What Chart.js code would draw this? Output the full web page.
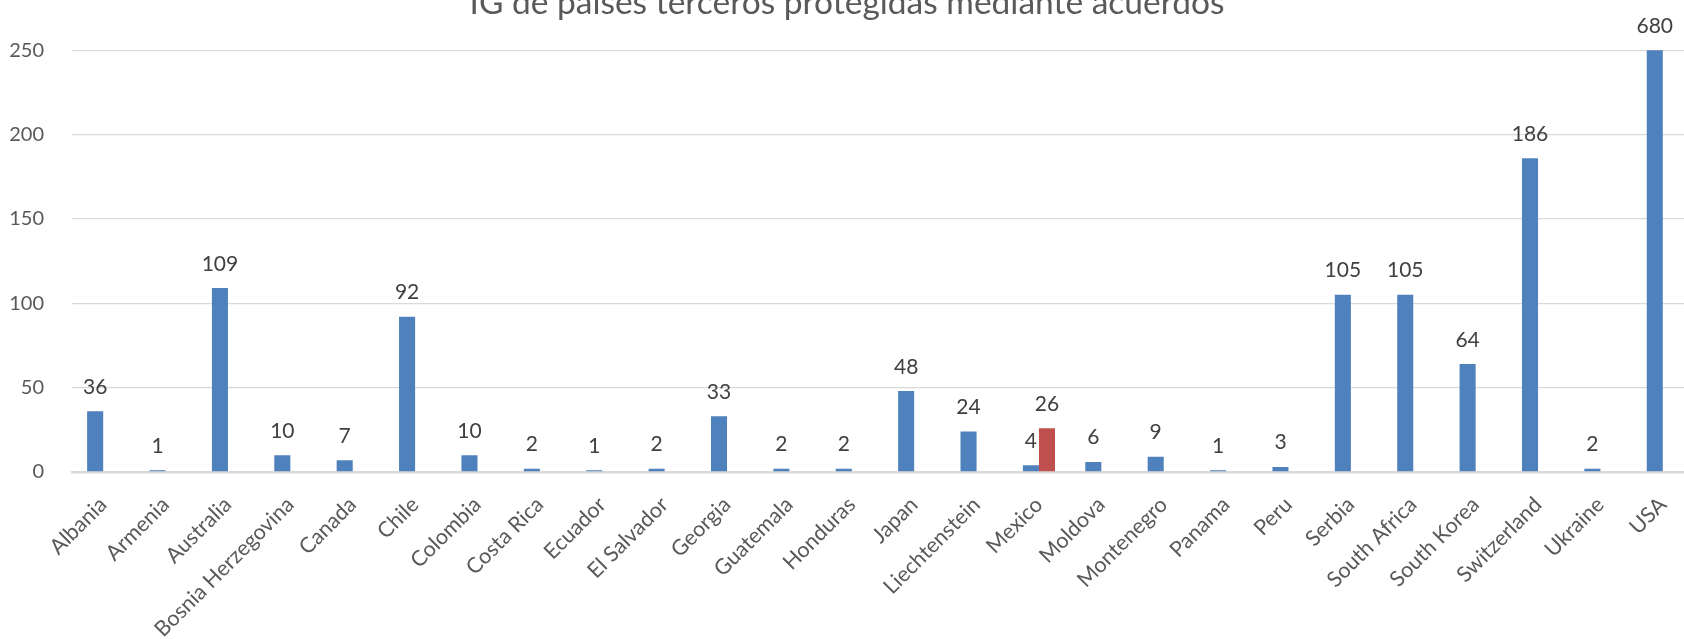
<!DOCTYPE html>
<html lang="es">
<head>
  <meta charset="UTF-8">
  <title>IG de países terceros protegidas mediante acuerdos</title>
  <script src="https://cdn.jsdelivr.net/npm/chart.js"></script>
  <style>
    html, body { margin: 0; padding: 0; overflow: hidden; background: #fff; }
    #wrap { position: absolute; left: 0; top: -17px; width: 1694px; height: 656px; }
  </style>
</head>
<body>
  <div id="wrap"><canvas id="igChart"></canvas></div>

  <script>
    // data
    var countries = ['Albania', 'Armenia', 'Australia', 'Bosnia Herzegovina', 'Canada', 'Chile',
      'Colombia', 'Costa Rica', 'Ecuador', 'El Salvador', 'Georgia', 'Guatemala', 'Honduras',
      'Japan', 'Liechtenstein', 'Mexico', 'Moldova', 'Montenegro', 'Panama', 'Peru', 'Serbia',
      'South Africa', 'South Korea', 'Switzerland', 'Ukraine', 'USA'];
    var igCount = [36, 1, 109, 10, 7, 92, 10, 2, 1, 2, 33, 2, 2, 48, 24, 4, 6, 9, 1, 3, 105, 105, 64, 186, 2, 680];
    var igExtra = [null, null, null, null, null, null, null, null, null, null, null, null, null,
      null, null, 26, null, null, null, null, null, null, null, null, null, null];
    var yTicks = [0, 50, 100, 150, 200, 250];

    var FONT = 'Lato, "Open Sans", sans-serif';

    // value labels above each bar (bars taller than the axis get theirs at the top)
    var valueLabels = {
      id: 'valueLabels',
      afterDatasetsDraw: function(chart) {
        var ctx = chart.ctx;
        var top = chart.chartArea.top;
        ctx.save();
        ctx.font = '21px ' + FONT;
        ctx.fillStyle = '#404040';
        ctx.textAlign = 'center';
        ctx.textBaseline = 'alphabetic';
        chart.data.datasets.forEach(function(ds, i) {
          var meta = chart.getDatasetMeta(i);
          meta.data.forEach(function(bar, j) {
            var v = ds.data[j];
            if (v === null || v === undefined) return;
            ctx.fillText(String(v), bar.x, Math.max(bar.y, top) - 17.5);
          });
        });
        ctx.restore();
      }
    };

    var ctx = document.getElementById('igChart').getContext('2d');
    var igChart = new Chart(ctx, {
      type: 'bar',
      data: {
        labels: countries,
        datasets: [{
          label: 'IG',
          data: igCount,
          backgroundColor: '#4F81BD',
          categoryPercentage: 0.515,
          barPercentage: 1
        }, {
          label: 'IG (2)',
          data: igExtra,
          backgroundColor: '#C0504D',
          categoryPercentage: 0.515,
          barPercentage: 1
        }]
      },
      options: {
        responsive: true,
        maintainAspectRatio: false,
        animation: false,
        layout: { padding: 0 },
        plugins: {
          legend: { display: false },
          tooltip: { enabled: false },
          title: {
            display: true,
            text: 'IG de países terceros protegidas mediante acuerdos',
            color: '#595959',
            font: { family: FONT, size: 33.5, weight: 'normal' },
            padding: { top: 0, bottom: 27 }
          }
        },
        scales: {
          x: {
            grid: { display: false },
            border: { color: '#D9D9D9', width: 2.5 },
            ticks: {
              color: '#595959',
              font: { family: FONT, size: 21.5 },
              minRotation: 45,
              maxRotation: 45,
              autoSkip: false,
              padding: 12
            },
            afterFit: function(scale) { scale.height = 167; }
          },
          y: {
            min: 0,
            max: 250,
            afterBuildTicks: function(scale) {
              scale.ticks = yTicks.map(function(v) { return { value: v }; });
            },
            grid: {
              color: '#D9D9D9',
              lineWidth: 1.3,
              drawTicks: false
            },
            border: { display: false },
            ticks: {
              color: '#595959',
              font: { family: FONT, size: 20 },
              padding: 28
            },
            afterFit: function(scale) { scale.width = 72; }
          }
        }
      },
      plugins: [valueLabels]
    });
  </script>
</body>
</html>
